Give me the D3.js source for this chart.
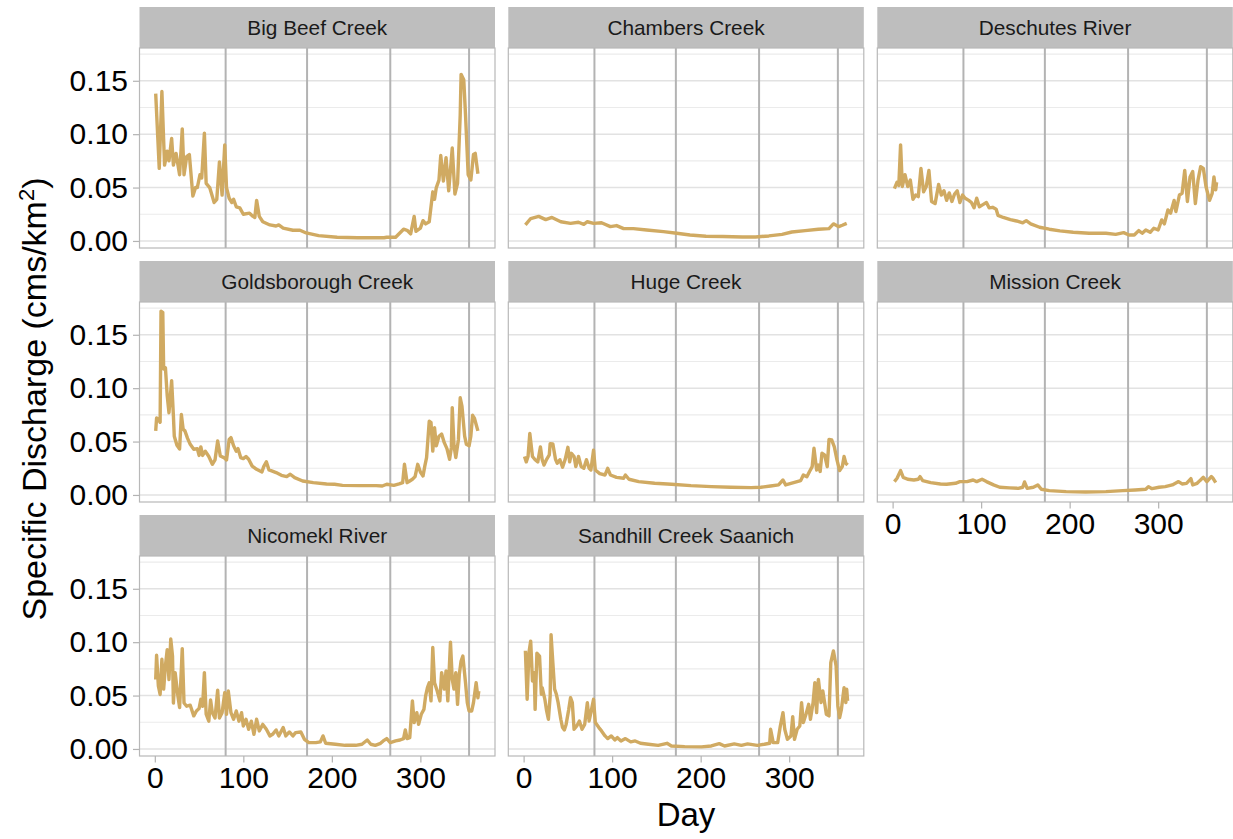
<!DOCTYPE html>
<html>
<head>
<meta charset="utf-8">
<script src="https://cdn.jsdelivr.net/npm/d3@7"></script>
<style>
  body { margin: 0; background: #fff; }
  text { font-family: "Liberation Sans", Arial, Helvetica, sans-serif; }
</style>
</head>
<body>
<script>
// facet names, in panel order
const sites = ["Big Beef Creek", "Chambers Creek", "Deschutes River",
  "Goldsborough Creek", "Huge Creek", "Mission Creek",
  "Nicomekl River", "Sandhill Creek Saanich"];

// season boundaries (vertical reference lines)
const seasonDays = [80, 172, 266, 355];
const xTicks = [0, 100, 200, 300];
const yTicks = [0, 0.05, 0.10, 0.15];
const yMinor = [0.025, 0.075, 0.125, 0.175];

// [day, specific discharge]
const bigBeef = [[1,.138],[5,.068],[8,.140],[11,.071],[14,.084],[16,.075],[19,.096],[21,.071],[24,.082],[28,.062],[31,.105],[33,.062],[36,.079],[39,.081],[43,.042],[46,.050],[48,.050],[51,.062],[53,.059],[56,.101],[58,.054],[62,.050],[67,.036],[70,.039],[73,.074],[76,.043],[79,.090],[81,.050],[84,.040],[87,.036],[89,.039],[92,.032],[96,.031],[100,.025],[107,.026],[111,.023],[113,.022],[115,.038],[118,.023],[122,.018],[130,.015],[137,.014],[140,.015],[145,.012],[156,.010],[164,.010],[171,.0075],[185,.005],[206,.0035],[229,.003],[259,.003],[262,.0035],[272,.0035],[281,.011],[285,.010],[289,.0066],[293,.023],[295,.009],[300,.012],[303,.019],[306,.016],[310,.018],[314,.046],[316,.039],[318,.050],[321,.057],[323,.080],[326,.056],[329,.078],[332,.047],[336,.087],[339,.044],[342,.054],[345,.118],[346,.156],[349,.151],[351,.118],[354,.062],[357,.057],[360,.081],[362,.082],[365,.063]];

const chambers = [[2,.015],[8,.021],[17,.023],[25,.020],[32,.022],[42,.018],[53,.0165],[62,.0175],[68,.0156],[72,.018],[79,.0165],[88,.017],[98,.0134],[105,.0144],[113,.0115],[124,.0115],[139,.0103],[158,.0087],[173,.0072],[188,.0056],[206,.0044],[225,.0041],[247,.0037],[262,.0037],[277,.0047],[292,.0062],[303,.0084],[318,.0097],[333,.0109],[345,.0115],[350,.016],[356,.0134],[360,.0147],[365,.0165]];

const deschutes = [[2,.049],[5,.055],[7,.052],[9,.090],[11,.051],[14,.062],[17,.051],[20,.057],[23,.039],[26,.043],[29,.0415],[32,.068],[35,.046],[38,.051],[41,.066],[44,.037],[48,.035],[52,.053],[55,.043],[58,.047],[61,.038],[64,.045],[67,.037],[70,.044],[73,.047],[76,.036],[79,.043],[82,.040],[86,.038],[89,.036],[92,.031],[95,.040],[98,.032],[102,.034],[106,.036],[109,.031],[113,.0315],[117,.0297],[119,.024],[125,.022],[133,.020],[140,.0187],[147,.017],[151,.019],[156,.016],[166,.0128],[177,.011],[189,.0094],[204,.0081],[222,.0072],[241,.0072],[252,.0062],[261,.0078],[267,.0056],[273,.0056],[278,.0097],[282,.0072],[286,.0103],[291,.0081],[295,.0119],[300,.0103],[304,.0197],[307,.016],[311,.029],[314,.026],[318,.038],[320,.0275],[324,.043],[327,.0446],[330,.066],[333,.037],[336,.060],[339,.065],[342,.035],[345,.057],[348,.0696],[351,.068],[354,.051],[358,.038],[361,.0446],[363,.060],[365,.0478],[366,.055]];

const goldsborough = [[1,.060],[2,.072],[4,.071],[6,.068],[7,.172],[9,.171],[10,.118],[12,.119],[14,.093],[16,.077],[19,.107],[21,.074],[22,.055],[25,.0465],[28,.043],[30,.0755],[32,.0615],[34,.060],[37,.053],[40,.0474],[44,.0428],[48,.0434],[50,.037],[52,.045],[54,.037],[57,.041],[61,.036],[65,.0287],[68,.0328],[71,.0506],[74,.0365],[78,.035],[81,.0328],[84,.052],[86,.0537],[89,.046],[92,.041],[94,.0434],[97,.035],[100,.034],[103,.036],[106,.0334],[110,.027],[115,.024],[121,.0215],[123,.0265],[126,.031],[129,.0234],[132,.0225],[137,.021],[143,.0184],[149,.0172],[153,.0194],[158,.0162],[167,.0131],[179,.0115],[194,.0103],[203,.010],[212,.009],[231,.0087],[250,.0087],[257,.0084],[262,.010],[270,.009],[276,.0103],[280,.0115],[282,.0287],[285,.0115],[288,.0131],[291,.0147],[294,.0172],[297,.0287],[300,.0215],[303,.0178],[305,.027],[307,.035],[310,.069],[312,.068],[314,.041],[316,.063],[318,.046],[321,.055],[324,.057],[327,.049],[330,.0434],[333,.0334],[335,.0443],[336,.0818],[338,.046],[340,.035],[343,.052],[345,.091],[347,.083],[350,.055],[352,.0474],[355,.046],[357,.055],[359,.0746],[361,.072],[363,.066],[365,.060]];

const huge = [[1,.036],[3,.031],[5,.036],[7,.0577],[10,.036],[13,.033],[16,.031],[19,.045],[21,.033],[23,.028],[26,.0334],[29,.0375],[30,.048],[33,.0478],[36,.0334],[38,.0297],[41,.033],[44,.026],[47,.0334],[50,.0446],[52,.031],[54,.039],[57,.036],[59,.0265],[62,.036],[65,.0265],[68,.025],[71,.033],[74,.025],[76,.0234],[79,.042],[81,.0234],[86,.020],[92,.0187],[95,.025],[98,.0187],[105,.0165],[113,.0156],[115,.0187],[119,.0147],[130,.0125],[148,.0109],[167,.010],[189,.0087],[212,.0078],[234,.0072],[257,.0069],[268,.0072],[279,.0084],[288,.0094],[293,.014],[296,.0094],[305,.0115],[313,.0134],[316,.0187],[320,.017],[323,.022],[326,.0265],[328,.0437],[331,.0234],[333,.028],[335,.022],[337,.039],[340,.0375],[343,.0265],[345,.052],[348,.0515],[351,.045],[354,.0328],[357,.0228],[360,.0265],[362,.036],[364,.0297],[366,.028]];

const mission = [[2,.0125],[5,.0156],[9,.0228],[12,.0165],[17,.0147],[24,.014],[29,.0147],[31,.0172],[34,.0134],[43,.0115],[54,.0103],[61,.010],[71,.0109],[76,.0125],[84,.0125],[91,.014],[95,.0125],[101,.0147],[106,.0125],[114,.0094],[121,.0072],[132,.0066],[142,.0062],[147,.0072],[149,.0122],[152,.0062],[159,.0072],[164,.0094],[168,.0053],[177,.0041],[196,.0031],[218,.0028],[241,.0031],[260,.0041],[274,.0047],[286,.0053],[289,.0078],[293,.0059],[301,.0072],[308,.0078],[316,.0094],[323,.0125],[327,.0103],[332,.0109],[337,.0153],[339,.0094],[344,.0109],[347,.0134],[351,.0165],[355,.0125],[360,.0172],[362,.0156],[365,.0115]];

const nicomekl = [[1,.065],[2,.0877],[4,.059],[6,.051],[8,.084],[10,.056],[12,.078],[14,.093],[16,.065],[18,.103],[20,.087],[21,.043],[23,.0715],[26,.050],[28,.0387],[31,.094],[33,.043],[36,.040],[40,.041],[44,.031],[47,.0356],[50,.0378],[52,.0465],[54,.040],[56,.0715],[58,.0325],[61,.026],[63,.0459],[65,.034],[68,.029],[71,.055],[73,.029],[76,.034],[79,.0527],[81,.0325],[83,.0543],[86,.034],[89,.0278],[92,.0356],[95,.026],[98,.034],[100,.0215],[103,.0278],[106,.0184],[109,.026],[112,.0137],[115,.0278],[118,.0169],[122,.023],[126,.0184],[130,.0122],[133,.0137],[137,.0178],[140,.0122],[145,.020],[148,.0122],[152,.0159],[156,.0122],[159,.0153],[165,.0159],[169,.009],[174,.0059],[182,.0059],[187,.0066],[190,.0122],[193,.0053],[204,.0044],[215,.0034],[227,.0034],[234,.0044],[240,.0084],[244,.0044],[249,.0034],[255,.0053],[258,.0075],[262,.0097],[266,.0059],[272,.0075],[277,.0084],[281,.0097],[283,.0178],[285,.0097],[288,.0106],[291,.045],[293,.0247],[296,.034],[298,.023],[301,.0325],[304,.037],[306,.050],[308,.0574],[310,.062],[312,.045],[314,.095],[316,.062],[319,.0543],[322,.045],[324,.0715],[327,.056],[329,.073],[331,.045],[334,.100],[336,.065],[338,.056],[340,.0715],[342,.0418],[344,.070],[346,.0824],[348,.087],[351,.062],[353,.0434],[355,.0356],[358,.0356],[360,.0434],[363,.062],[365,.048],[366,.0543]];

const sandhill = [[2,.092],[4,.0465],[6,.090],[8,.101],[10,.0637],[12,.0715],[13,.0371],[15,.0896],[18,.087],[20,.0512],[21,.0574],[24,.0465],[26,.0356],[28,.0278],[30,.0496],[31,.107],[33,.081],[35,.056],[37,.0512],[39,.0434],[42,.0278],[44,.020],[46,.0178],[48,.023],[51,.0371],[53,.048],[55,.0434],[57,.0184],[60,.0215],[63,.0262],[66,.0184],[69,.023],[72,.0434],[74,.0262],[76,.034],[79,.0465],[81,.0247],[85,.020],[88,.0169],[92,.0122],[95,.0097],[99,.0122],[103,.0084],[106,.0106],[110,.0075],[115,.0097],[121,.0066],[126,.0075],[132,.0053],[141,.0044],[152,.0034],[162,.0053],[167,.0028],[182,.0022],[201,.0019],[212,.0028],[221,.005],[227,.0028],[238,.0047],[246,.0034],[253,.0047],[264,.0034],[272,.0044],[278,.0053],[279,.0184],[282,.0059],[287,.0059],[290,.0215],[293,.034],[295,.0184],[298,.009],[302,.0122],[304,.0303],[306,.009],[309,.0184],[312,.0215],[314,.0434],[316,.0247],[319,.0325],[322,.0418],[324,.0278],[327,.0434],[329,.0621],[331,.034],[333,.0652],[336,.0434],[338,.0543],[340,.0434],[342,.0325],[345,.031],[347,.0808],[350,.0918],[353,.0777],[355,.0403],[357,.0293],[359,.0371],[362,.0574],[364,.0434],[365,.0559],[366,.045]];

const seriesBySite = {
  "Big Beef Creek": bigBeef, "Chambers Creek": chambers, "Deschutes River": deschutes,
  "Goldsborough Creek": goldsborough, "Huge Creek": huge, "Mission Creek": mission,
  "Nicomekl River": nicomekl, "Sandhill Creek Saanich": sandhill
};

let width = 1233, height = 839;
let panelW = 355.5, panelH = 200, stripH = 41;
let colX = [139.5, 508.3, 877.3];
let rowY = [7, 261, 515];
let lineColor = "#d0aa62";
let tickFont = 30;

let svg = d3.select("body").append("svg")
  .attr("width", width)
  .attr("height", height)
  .style("background", "#fff");

let x = d3.scaleLinear().domain([-17.3, 384.3]).range([0, panelW]);
let y = d3.scaleLinear().domain([-0.0066, 0.1807]).range([panelH, 0]);
let line = d3.line().x(d => x(d[0])).y(d => y(d[1]));

sites.forEach((site, i) => {
  let col = i % 3, row = Math.floor(i / 3);
  let g = svg.append("g")
    .attr("transform", `translate(${colX[col]},${rowY[row] + stripH})`);

  // strip
  g.append("rect")
    .attr("x", 0).attr("y", -stripH)
    .attr("width", panelW).attr("height", stripH)
    .attr("fill", "#bebebe");
  g.append("text")
    .attr("x", panelW / 2).attr("y", -stripH / 2 + 7)
    .attr("text-anchor", "middle")
    .attr("font-size", 20.8)
    .attr("fill", "#1a1a1a")
    .text(site);

  // grid
  g.selectAll(".minor").data(yMinor).enter().append("line")
    .attr("x1", 0).attr("x2", panelW)
    .attr("y1", d => y(d)).attr("y2", d => y(d))
    .attr("stroke", "#ebebeb").attr("stroke-width", 1.2);
  g.selectAll(".major").data(yTicks).enter().append("line")
    .attr("x1", 0).attr("x2", panelW)
    .attr("y1", d => y(d)).attr("y2", d => y(d))
    .attr("stroke", "#e2e2e2").attr("stroke-width", 1.5);

  // season lines
  g.selectAll(".season").data(seasonDays).enter().append("line")
    .attr("x1", d => x(d)).attr("x2", d => x(d))
    .attr("y1", 0).attr("y2", panelH)
    .attr("stroke", "#b3b3b3").attr("stroke-width", 2);

  g.append("path")
    .datum(seriesBySite[site])
    .attr("d", line)
    .attr("fill", "none")
    .attr("stroke", lineColor)
    .attr("stroke-width", 3.4)
    .attr("stroke-linejoin", "round");

  g.append("rect")
    .attr("width", panelW).attr("height", panelH)
    .attr("fill", "none")
    .attr("stroke", "#b8b8b8").attr("stroke-width", 1.2);

  if (col == 0) {
    let ay = g.append("g")
      .call(d3.axisLeft(y).tickValues(yTicks).tickFormat(d3.format(".2f"))
        .tickSize(6.5).tickPadding(5));
    ay.select(".domain").remove();
    ay.selectAll("line").attr("stroke", "#b3b3b3").attr("stroke-width", 1.2);
    ay.selectAll("text").attr("font-size", tickFont).attr("fill", "#000")
      .style("font-family", "'Liberation Sans', Arial, sans-serif");
  }
  if (row == 2 || (row == 1 && col == 2)) {
    let ax = g.append("g")
      .attr("transform", `translate(0,${panelH})`)
      .call(d3.axisBottom(x).tickValues(xTicks).tickSize(6.5).tickPadding(4));
    ax.select(".domain").remove();
    ax.selectAll("line").attr("stroke", "#b3b3b3").attr("stroke-width", 1.2);
    ax.selectAll("text").attr("font-size", tickFont).attr("fill", "#000")
      .style("font-family", "'Liberation Sans', Arial, sans-serif");
  }
});

// axis titles
svg.append("text")
  .attr("x", 686).attr("y", 826)
  .attr("text-anchor", "middle")
  .attr("font-size", 33)
  .text("Day");

let yt = svg.append("text")
  .attr("transform", "translate(46,399) rotate(-90)")
  .attr("text-anchor", "middle")
  .attr("font-size", 34);
yt.append("tspan").text("Specific Discharge (cms/km");
yt.append("tspan").attr("dy", "-0.55em").attr("font-size", 22).text("2");
yt.append("tspan").attr("dy", "0.37em").text(")");
</script>
</body>
</html>
